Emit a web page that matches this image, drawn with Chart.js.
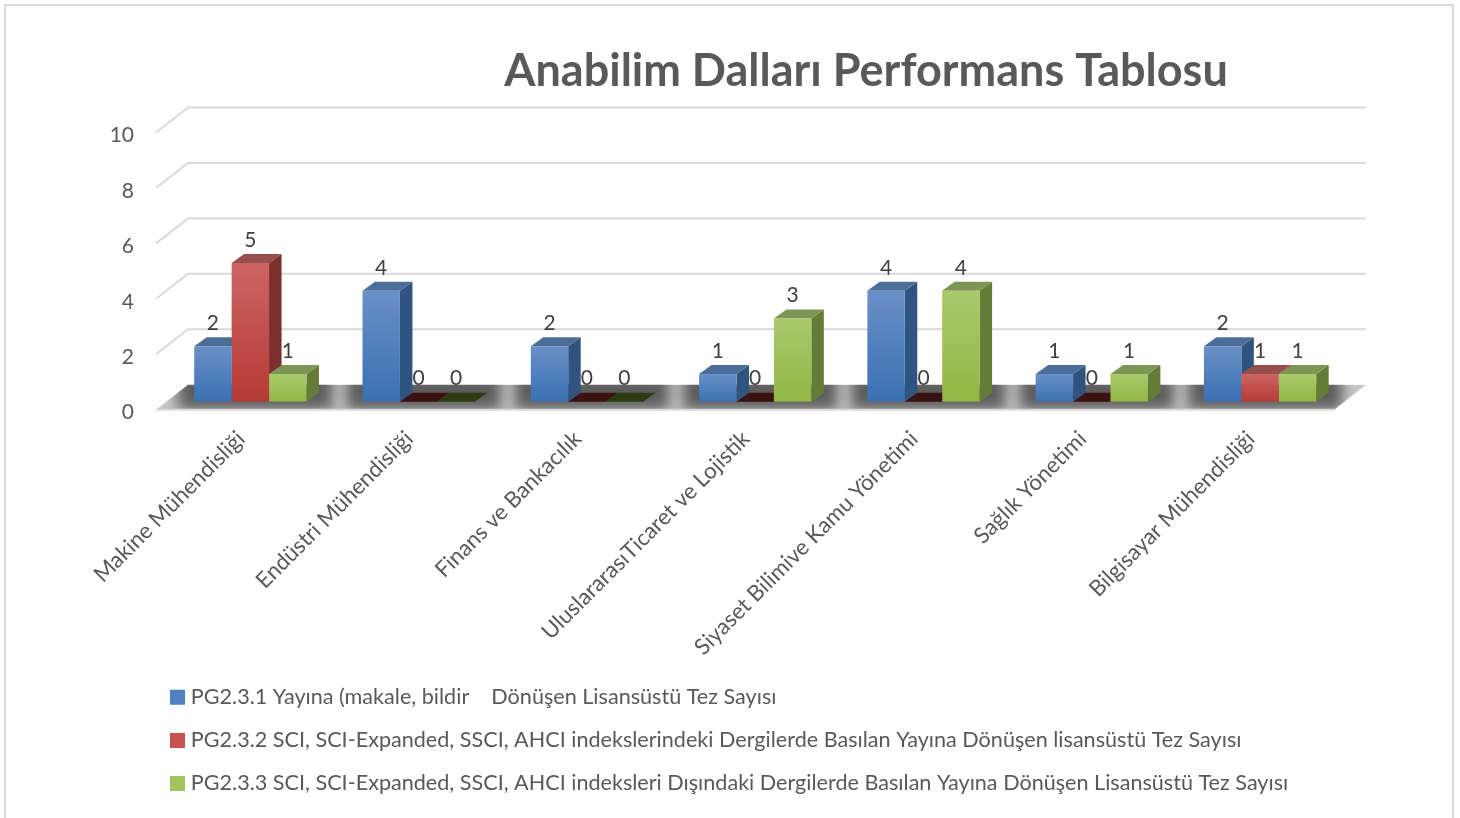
<!DOCTYPE html>
<html lang="tr"><head><meta charset="utf-8">
<style>html,body{margin:0;padding:0;background:#fff;overflow:hidden}canvas{display:block}</style>
<script src="https://cdn.jsdelivr.net/npm/chart.js@4/dist/chart.umd.min.js"></script>
</head><body><canvas id="c" width="1460" height="818"></canvas>
<script>
const categories = ["Makine Mühendisliği","Endüstri Mühendisliği","Finans ve Bankacılık","UluslararasıTicaret ve Lojistik","Siyaset Bilimive Kamu Yönetimi","Sağlık Yönetimi","Bilgisayar Mühendisliği"];
const series1 = [2,4,2,1,4,1,2];
const series2 = [5,0,0,0,0,0,1];
const series3 = [1,0,0,3,4,1,1];
const seriesNames = ["PG2.3.1 Yayına (makale, bildir    Dönüşen Lisansüstü Tez Sayısı","PG2.3.2 SCI, SCI-Expanded, SSCI, AHCI indekslerindeki Dergilerde Basılan Yayına Dönüşen lisansüstü Tez Sayısı","PG2.3.3 SCI, SCI-Expanded, SSCI, AHCI indeksleri Dışındaki Dergilerde Basılan Yayına Dönüşen Lisansüstü Tez Sayısı"];
const chartTitle = "Anabilim Dalları Performans Tablosu";
const FONT = "Lato";
const WALL = {dx:32, dy:-25};
const BAR_SHIFT = {dx:10.2, dy:-8};
const DEPTH = {dx:12.5, dy:-9};
const palette = [
 {solid:"#4f81c2",top:"#6a90c8",bottom:"#3a70b2",side:"#2f5480",cap:"#4d6d99",zero:"#1d2f4a"},
 {solid:"#c65350",top:"#cc6561",bottom:"#b63a37",side:"#7b302e",cap:"#964f4d",zero:"#3a1212"},
 {solid:"#a0c45c",top:"#a9c96c",bottom:"#93b644",side:"#647d36",cap:"#7f9553",zero:"#2c3a12"}
];
function fill(i){
  return function(ctx){
    const p = palette[i];
    if(ctx.type !== "data" || !ctx.chart.scales.y) return p.solid;
    const s = ctx.chart.scales.y;
    const t = s.getPixelForValue(ctx.parsed.y), b = s.getPixelForValue(0);
    if(!(b>t)) return p.solid;
    const g = ctx.chart.ctx.createLinearGradient(0,t,0,b);
    g.addColorStop(0,p.top); g.addColorStop(1,p.bottom);
    return g;
  };
}
function poly(c,pts,col){c.beginPath();pts.forEach((q,i)=>i?c.lineTo(q[0],q[1]):c.moveTo(q[0],q[1]));c.closePath();c.fillStyle=col;c.fill();}
const frame3d = {
  id:"frame3d",
  afterLayout(chart){
    const t = chart.titleBlock; t.left = 272; t.right = 1460;
    const l = chart.legend; const h = l.height;
    l.left = 175 - l.options.labels.padding; l.right = 1460; l.width = l.right - l.left;
    l.top = 665; l.bottom = 665 + h;
  },
  beforeDraw(chart){
    const c = chart.ctx; c.save();
    c.strokeStyle="#d9d9d9"; c.lineWidth=2; c.strokeRect(5,5,1448,830);
    c.restore();
  },
  beforeDatasetsDraw(chart){
    const c = chart.ctx, a = chart.chartArea, y = chart.scales.y, x = chart.scales.x;
    c.save();
    c.strokeStyle="#d9d9d9"; c.lineWidth=2;
    y.ticks.forEach((tk,i)=>{
      const py = y.getPixelForTick(i);
      c.beginPath();
      c.moveTo(a.left,py); c.lineTo(a.left+WALL.dx,py+WALL.dy); c.lineTo(a.right+WALL.dx,py+WALL.dy);
      if(tk.value!==0) c.stroke();
    });
    const y0 = y.getPixelForValue(0);
    const pts = [[a.left,y0],[a.right,y0],[a.right+WALL.dx,y0+WALL.dy],[a.left+WALL.dx,y0+WALL.dy]];
    c.save();
    c.beginPath();pts.forEach((q,i)=>i?c.lineTo(q[0],q[1]):c.moveTo(q[0],q[1]));c.closePath();c.clip();
    c.fillStyle="#c6c6c6"; c.fillRect(a.left,y0+WALL.dy,a.right-a.left+WALL.dx,-WALL.dy);
    c.filter="blur(7px)";
    categories.forEach((n,i)=>{
      const m = x.getPixelForValue(i)+BAR_SHIFT.dx;
      const w = x.width/7*0.667;
      c.fillStyle="#5c5c5c";
      c.fillRect(m-w/2-16,y0+WALL.dy-10,w+42,-WALL.dy+10);
    });
    c.filter="none";
    c.restore();
    c.strokeStyle="#d9d9d9"; c.lineWidth=2;
    c.beginPath();c.moveTo(a.left,y0);c.lineTo(a.right,y0);c.stroke();
    chart.data.datasets.forEach((ds,di)=>{
      const p = palette[di];
      chart.getDatasetMeta(di).data.forEach(el=>{
        const r = el.getProps(["x","y","base","width"],true);
        const L=r.x-r.width/2+BAR_SHIFT.dx, R=r.x+r.width/2+BAR_SHIFT.dx, T=r.y+BAR_SHIFT.dy, B=r.base+BAR_SHIFT.dy;
        const d=DEPTH;
        if(B-T>0.5) poly(c,[[R,T],[R+d.dx,T+d.dy],[R+d.dx,B+d.dy],[R,B]],p.side);
        poly(c,[[L,T],[L+d.dx,T+d.dy],[R+d.dx,T+d.dy],[R,T]],B-T>0.5?p.cap:p.zero);
      });
    });
    c.restore();
    c.save();
    c.translate(BAR_SHIFT.dx,BAR_SHIFT.dy);
  },
  afterDatasetsDraw(chart){
    const c = chart.ctx;
    c.restore();
    c.save();
    c.font = "21px "+FONT; c.fillStyle="#404040"; c.textAlign="center"; c.textBaseline="middle";
    chart.data.datasets.forEach((ds,di)=>{
      chart.getDatasetMeta(di).data.forEach((el,i)=>{
        const r = el.getProps(["x","y"],true);
        c.fillText(String(ds.data[i]), r.x+BAR_SHIFT.dx, r.y+BAR_SHIFT.dy-23);
      });
    });
    c.restore();
  }
};
const datasets = [series1,series2,series3].map((d,i)=>({label:seriesNames[i],data:d,backgroundColor:fill(i),borderWidth:0,barPercentage:1,categoryPercentage:0.667}));
new Chart(document.getElementById("c"),{
  type:"bar",
  data:{labels:categories,datasets},
  plugins:[frame3d],
  options:{
    responsive:false,animation:false,events:[],devicePixelRatio:1,
    layout:{padding:{left:0,right:126,top:0,bottom:0}},
    plugins:{
      title:{display:true,text:chartTitle,color:"#595959",font:{family:FONT,size:45,weight:"bold"},padding:{top:44,bottom:34.5}},
      legend:{display:true,position:"bottom",align:"start",labels:{
        font:{family:FONT,size:21.6},color:"#595959",boxWidth:5,boxHeight:5,padding:21.5,
        generateLabels(chart){
          return Chart.defaults.plugins.legend.labels.generateLabels(chart).map((it,i)=>Object.assign(it,{fillStyle:palette[i].solid,strokeStyle:palette[i].solid,lineWidth:10}));
        }
      }},
      tooltip:{enabled:false}
    },
    scales:{
      x:{grid:{display:false},border:{display:false},
         ticks:{color:"#595959",font:{family:FONT,size:22.3},minRotation:45,maxRotation:45,autoSkip:false,padding:8,labelOffset:1},
         afterFit(s){s.height=269;}},
      y:{min:0,max:10,grid:{display:false,drawTicks:false},border:{display:false},
         ticks:{stepSize:2,color:"#595959",font:{family:FONT,size:21},padding:22,labelOffset:3},
         afterFit(s){s.width=156;}}
    }
  }
});
</script></body></html>
